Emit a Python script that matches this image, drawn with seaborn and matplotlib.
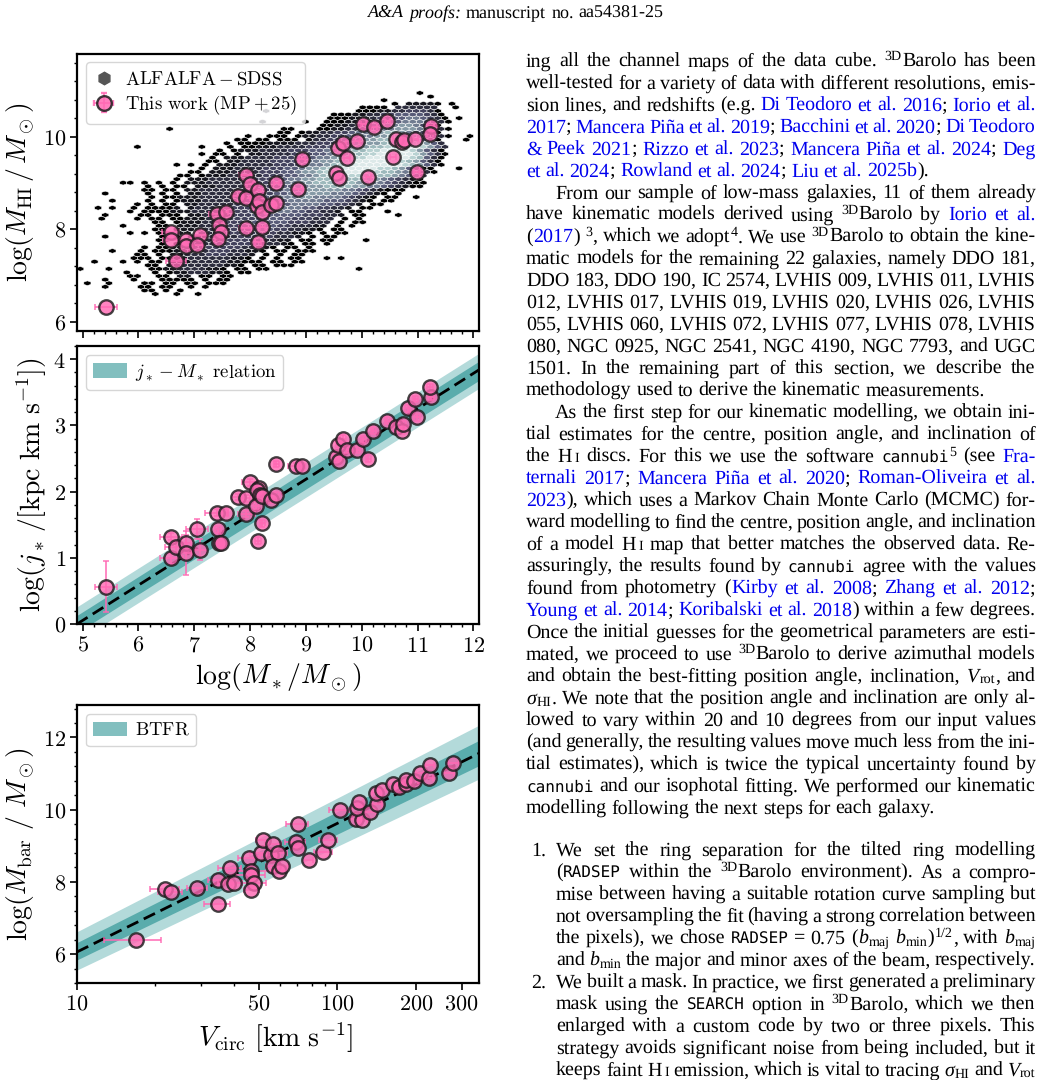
import re
import numpy as np
import matplotlib
matplotlib.use("Agg")
import matplotlib.pyplot as plt
from matplotlib.lines import Line2D
from matplotlib.patches import Patch
from matplotlib.ticker import MultipleLocator, FormatStrFormatter, FixedLocator, FixedFormatter, NullFormatter
from matplotlib.transforms import IdentityTransform
import seaborn as sns

# ---------------- data: HI mass vs stellar mass ----------------
hi_mstar = [5.42,6.58,6.59,6.67,6.85,6.86,7.11,7.05,7.40,7.56,7.45,7.48,7.42,7.79,7.92,7.93,7.92,8.00,8.14,8.13,
            8.16,8.22,8.14,8.22,8.37,8.47,8.47,8.85,8.93,9.53,9.60,9.58,9.66,9.74,9.92,10.12,10.03,10.22,10.46,
            10.61,10.72,10.75,10.56,10.96,10.99,11.24,11.22]
hi_mhi = [6.32,7.93,7.76,7.31,7.77,7.64,7.88,7.65,8.34,8.37,8.10,7.93,7.79,8.72,8.67,8.02,9.17,8.97,8.85,8.51,
          8.62,8.04,7.73,8.37,8.52,8.56,8.99,8.87,9.51,9.21,9.10,9.76,9.86,9.55,9.91,9.12,10.27,10.22,10.34,
          9.95,9.89,9.93,9.57,9.95,9.23,10.23,10.07]
hi_xerr = [0.20,0.15,0.15,0.18,0.10,0.10,0.12,0.10,0.14,0.05,0.05,0.05,0.05,0.12,0.08,0.12,0.12,0.05,0.05,0.05,
           0.05,0.05,0.05,0.05,0.05,0.05,0.05,0.10,0.05,0.05,0.05,0.05,0.05,0.05,0.05,0.05,0.05,0.05,0.05,
           0.05,0.05,0.05,0.05,0.05,0.05,0.05,0.05]

# ---------------- data: specific angular momentum ----------------
j_mstar = [5.42,6.58,6.59,6.67,6.85,6.86,7.05,7.11,7.40,7.56,7.43,7.45,7.48,7.79,7.92,7.93,8.00,8.16,8.13,8.17,
           8.11,8.22,8.14,8.22,8.37,8.47,8.47,8.83,8.93,9.53,9.60,9.58,9.66,9.73,9.92,10.12,10.03,10.21,10.46,
           10.61,10.72,10.74,10.82,10.96,10.99,11.24,11.22]
j_val = [0.565,1.32,0.99,1.16,1.22,1.07,1.43,1.12,1.68,1.68,1.43,1.23,1.23,1.92,1.90,1.66,2.14,2.06,2.03,1.95,
         1.79,1.52,1.26,1.93,1.88,1.95,2.42,2.38,2.38,2.53,2.47,2.71,2.80,2.63,2.63,2.50,2.79,2.92,3.07,
         2.97,2.92,3.02,3.26,3.40,3.12,3.43,3.58]
j_xerr = [0.20,0.20,0.20,0.20,0.10,0.10,0.20,0.12,0.20,0.05,0.05,0.05,0.05,0.12,0.08,0.15,0.15,0.05,0.05,0.05,
          0.05,0.05,0.05,0.05,0.05,0.05,0.05,0.15,0.05,0.05,0.05,0.05,0.05,0.05,0.05,0.05,0.05,0.05,0.05,
          0.05,0.05,0.05,0.05,0.05,0.05,0.05,0.05]
j_yerr = [0.39,0.05,0.08,0.10,0.12,0.33,0.15,0.16,0.05,0.05,0.05,0.05,0.05,0.05,0.05,0.05,0.05,0.05,0.05,0.05,
          0.05,0.05,0.05,0.05,0.05,0.05,0.05,0.05,0.05,0.05,0.05,0.05,0.05,0.05,0.05,0.05,0.05,0.05,0.05,
          0.05,0.05,0.05,0.05,0.05,0.05,0.05,0.05]
jm_x = [4.9, 12.1]
jm_mid = [0.00, 3.84]
jm_in_lo = [-0.13, 3.68]
jm_in_hi = [0.13, 3.97]
jm_out_lo = [-0.26, 3.56]
jm_out_hi = [0.26, 4.09]

# ---------------- data: baryonic Tully-Fisher ----------------
tf_v = [16.9,21.8,22.9,29.0,34.8,34.8,37.9,40.2,38.7,45.7,46.8,46.8,48.0,46.8,51.1,51.6,55.4,56.7,59.3,56.4,
        59.8,61.4,69.2,70.6,70.3,77.6,88.1,92.3,102,118,124,119,121,133.7,141.9,141,148.5,163,173,183,183,
        197,208,224,226,268,279]
tf_mbar = [6.38,7.80,7.72,7.84,8.05,7.39,7.94,7.97,8.38,8.65,8.29,8.18,7.98,7.77,8.79,9.17,8.75,9.04,8.79,8.44,
           8.30,8.44,9.11,8.95,9.60,8.61,8.83,9.17,10.0,9.73,9.72,10.05,10.22,9.95,10.17,10.47,10.54,10.70,10.64,10.70,10.82,
           10.79,11.02,10.88,11.25,11.02,11.28]
tf_verr = [4.2,2.8,2.5,2.6,2.9,4.0,3,3,4,4,9,6,5,3,5,3,5,4,5,3,
           3,3,6,4,7,3,7,7,9,6,6,6,5,7,6,5,5,7,7,7,7,
           7,8,9,9,13,13]
tf_x = [10, 350]
tf_mid = [6.06, 11.56]
tf_in_lo = [5.84, 11.22]
tf_in_hi = [6.32, 11.92]
tf_out_lo = [5.56, 10.85]
tf_out_hi = [6.62, 12.34]

# ---------------- data: ALFALFA-SDSS hexbin cells, read row by row ----------------
# row number, first column, density level of each cell from there on (blank = empty)
hex_rows = [50,58,57,56,55,54,53,53,52,51,51,50,50,49,48,48,48,47,47,46,46,46,46,45,45,45,44,44,43,43,43,42,41,41,40,39,38,38,38,
            37,37,36,35,34,33,33,33,33,32,32,32,31,31,30,30,30,29,29,29,28,28,27,27,26,26,26,25,25,25,24,24,24,23,23,22,21,21,
            20,19,19,18,18,17,17,16,15,14,14,13,12,12,12,11,11,11,10,9,9,9,9,9,8,8,7,7,7,6,6,6,6,5,5,5,4,4,4,3,2,2,2,0]
hex_first = [25,47,49,42,44,39,26,39,35,35,53,31,34,34,12,28,33,28,31,23,26,30,54,22,32,54,20,22,8,17,21,19,17,19,18,18,13,15,17,
             17,53,15,14,13,6,9,11,13,9,11,13,9,12,3,9,11,10,13,47,4,9,8,10,2,7,12,7,13,43,3,8,44,3,8,10,6,11,
             10,7,11,3,11,11,40,11,9,4,8,8,7,34,36,2,6,8,9,0,4,10,25,39,6,10,7,11,20,3,7,11,20,1,4,9,3,8,15,9,10,13,16,13]
hex_cells = ["2","0","0","0","0 11110 0","0000 222222  0","2","000112233320","0001122334444320","00011223344554320","0","0",
             "000112233445554320","00112234455665320","0","00","0011223445566654320","00","01122334556677654320","0","000",
             "0112233445566777664320","0","00 00 000 0","1223344566778876420","0","0","00001111222333445566778888642","0","0",
             "0 00111222233344556677889998642","0 011122223334455667788999986420","0","00 0 1122223334456677889999986420",
             "0 1112222333344556778899999987420","00 112222333445566788999999876420","0","0","0 11122222333445567889999999876420",
             "0 1112222333445667889999988764200","0","00 11122223334456678899998877654320","00 01112222233344556788888777765432",
             "0 111222223333445566777777766543210","00","0","0","0 1112222233334455667777776655432100","0","0",
             "00 11122222333344556677776655432100","00","00 1122222333334455666666554321000","0","0","0 0 1122222333334455666655543210 0",
             "0 0","01112222233334455566555543210 00","0","0","0 0 0111222223333444555554443210 00","0","0 00 1122222333344445555443321 00",
             "0 0","0 000","01 12222333344445554433221 00","0 0000","111222233334444554433221 00","0","0",
             "00 000 1122223334444444333221 00","0","0","0 00 00111222333344444333222 0 0","00 0111222333344444333222 0 00","0",
             "00 111222333344443322211 0 0","00 111222233334443322110 00","0 0","00 11 2222333343322110 0 00","0",
             "0 0 1112222333332221 0 00","00 1122223333322211 00 00","0","0 0 122223333322210 00 0","0 00112223333322110 00 0","0",
             "0 0001122233322110 00 000","00 0 112223332221 0 0 00","000 0011222222110 0 0 00","0","0","0","0",
             "0 00 0112222211000 00 00","00 11222222110 00 000","0","0","00112222110 00","00","0","0","0 011222110 00","00",
             "00 11 00 ","00","0","0","00000 0 0","0","0","0","00 00 00 000","0","00 00","0 0","00 0 0","0","0","0"]

# page text: markup b{blue} i{italic} t{mono} ^{sup} _{sub} s{small} H{header} J{header italic}
header_line = "J{A&A proofs:} H{manuscript no. aa54381-25}"
body_lines = [
 ("ing all the channel maps of the data cube. ^{3D}Barolo has been", 0, False),
 ("well-tested for a variety of data with different resolutions, emis-", 0, False),
 ("sion lines, and redshifts (e.g. b{Di Teodoro et al. 2016}; b{Iorio et al.}", 0, False),
 ("b{2017}; b{Mancera Piña et al. 2019}; b{Bacchini et al. 2020}; b{Di Teodoro}", 0, False),
 ("b{& Peek 2021}; b{Rizzo et al. 2023}; b{Mancera Piña et al. 2024}; b{Deg}", 0, False),
 ("b{et al. 2024}; b{Rowland et al. 2024}; b{Liu et al. 2025b}).", 0, True),
 ("From our sample of low-mass galaxies, 11 of them already", 1, False),
 ("have kinematic models derived using ^{3D}Barolo by b{Iorio et al.}", 0, False),
 ("(b{2017}) ^{3}, which we adopt^{4}. We use ^{3D}Barolo to obtain the kine-", 0, False),
 ("matic models for the remaining 22 galaxies, namely DDO 181,", 0, False),
 ("DDO 183, DDO 190, IC 2574, LVHIS 009, LVHIS 011, LVHIS", 0, False),
 ("012, LVHIS 017, LVHIS 019, LVHIS 020, LVHIS 026, LVHIS", 0, False),
 ("055, LVHIS 060, LVHIS 072, LVHIS 077, LVHIS 078, LVHIS", 0, False),
 ("080, NGC 0925, NGC 2541, NGC 4190, NGC 7793, and UGC", 0, False),
 ("1501. In the remaining part of this section, we describe the", 0, False),
 ("methodology used to derive the kinematic measurements.", 0, True),
 ("As the first step for our kinematic modelling, we obtain ini-", 1, False),
 ("tial estimates for the centre, position angle, and inclination of", 0, False),
 ("the Hs{I} discs. For this we use the software t{cannubi}^{5} (see b{Fra-}", 0, False),
 ("b{ternali 2017}; b{Mancera Piña et al. 2020}; b{Roman-Oliveira et al.}", 0, False),
 ("b{2023}), which uses a Markov Chain Monte Carlo (MCMC) for-", 0, False),
 ("ward modelling to find the centre, position angle, and inclination", 0, False),
 ("of a model Hs{I} map that better matches the observed data. Re-", 0, False),
 ("assuringly, the results found by t{cannubi} agree with the values", 0, False),
 ("found from photometry (b{Kirby et al. 2008}; b{Zhang et al. 2012};", 0, False),
 ("b{Young et al. 2014}; b{Koribalski et al. 2018}) within a few degrees.", 0, False),
 ("Once the initial guesses for the geometrical parameters are esti-", 0, False),
 ("mated, we proceed to use ^{3D}Barolo to derive azimuthal models", 0, False),
 ("and obtain the best-fitting position angle, inclination, i{V}_{rot}, and", 0, False),
 ("i{σ}_{HI}. We note that the position angle and inclination are only al-", 0, False),
 ("lowed to vary within 20 and 10 degrees from our input values", 0, False),
 ("(and generally, the resulting values move much less from the ini-", 0, False),
 ("tial estimates), which is twice the typical uncertainty found by", 0, False),
 ("t{cannubi} and our isophotal fitting. We performed our kinematic", 0, False),
 ("modelling following the next steps for each galaxy.", 0, True),
]
list_lines = [
 ("1.", "We set the ring separation for the tilted ring modelling", False),
 ("", "(t{RADSEP} within the ^{3D}Barolo environment). As a compro-", False),
 ("", "mise between having a suitable rotation curve sampling but", False),
 ("", "not oversampling the fit (having a strong correlation between", False),
 ("", "the pixels), we chose t{RADSEP} = 0.75 (i{b}_{maj} i{b}_{min})^{1/2}, with i{b}_{maj}", False),
 ("", "and i{b}_{min} the major and minor axes of the beam, respectively.", False),
 ("2.", "We built a mask. In practice, we first generated a preliminary", False),
 ("", "mask using the t{SEARCH} option in ^{3D}Barolo, which we then", False),
 ("", "enlarged with a custom code by two or three pixels. This", False),
 ("", "strategy avoids significant noise from being included, but it", False),
 ("", "keeps faint Hs{I} emission, which is vital to tracing i{σ}_{HI} and i{V}_{rot}", False),
]

# ---------------- style ----------------
sns.set_theme(style="ticks")
plt.rcParams.update({
    "mathtext.fontset": "cm",
    "text.hinting": "no_hinting",
    "text.hinting_factor": 1,
    "axes.linewidth": 1.6,
    "xtick.major.width": 1.2, "ytick.major.width": 1.2,
    "xtick.minor.width": 1.0, "ytick.minor.width": 1.0,
    "xtick.major.size": 5, "ytick.major.size": 5,
    "xtick.minor.size": 2.5, "ytick.minor.size": 2.5,
    "xtick.color": "black", "ytick.color": "black",
    "xtick.labelsize": 16, "ytick.labelsize": 16,
    "axes.edgecolor": "black", "text.color": "black", "axes.labelcolor": "black",
})
W, H = 1044, 1080
fig = plt.figure(figsize=(W / 100, H / 100), dpi=100, facecolor="white")

def make_axes(top, bottom):
    return fig.add_axes([77 / W, 1 - bottom / H, 402 / W, (bottom - top) / H])

PINK = "#ff69b4"
EDGE = "#1c1c1c"
OUT_C, IN_C, LEG_C = "#b3dada", "#5aacac", "#82bfbf"

def draw_points(ax, x, y, xerr=None, yerr=None):
    ax.errorbar(x, y, xerr=xerr, yerr=yerr, fmt="none", ecolor=PINK, elinewidth=1.3,
                capsize=2.2, capthick=1.2, alpha=0.85, zorder=4)
    sns.scatterplot(x=x, y=y, ax=ax, s=108, color=PINK, edgecolor=EDGE, linewidth=1.7,
                    alpha=0.82, zorder=5, legend=False, clip_on=False)

def draw_band(ax, x, lo_o, hi_o, lo_i, hi_i, mid):
    ax.fill_between(x, lo_o, hi_o, color=OUT_C, lw=0, zorder=1)
    ax.fill_between(x, lo_i, hi_i, color=IN_C, lw=0, zorder=2)
    sns.lineplot(x=x, y=mid, ax=ax, color="black", lw=2.0, zorder=3, legend=False,
                 linestyle=(0, (4.5, 2.2)), errorbar=None)

TICKFMT = FormatStrFormatter(r"$%d$")
LEG_FS = 13.5

# ---------- panel 1 ----------
ax1 = make_axes(53.5, 331)
sx, dy = 0.12805, 0.0776
sy = 2 * dy
x_odd, y_base = 4.958, 6.445
hx, hy, hc = [], [], []
for k, m0, cells in zip(hex_rows, hex_first, hex_cells):
    for i, ch in enumerate(cells):
        if ch != " ":
            col = m0 + i
            hx.append(x_odd + sx * col + (0 if k % 2 else sx / 2))
            hy.append(y_base + k * dy)
            hc.append(float(ch))
xmin, ymin = x_odd - sx, y_base - dy
ax1.hexbin(hx, hy, C=hc, gridsize=(64, 36), extent=(xmin, xmin + 64 * sx, ymin, ymin + 36 * sy),
           cmap="bone", vmin=0, vmax=10, edgecolors="white", linewidths=0.4, zorder=1)
draw_points(ax1, hi_mstar, hi_mhi, xerr=hi_xerr)
ax1.set_xlim(4.9, 12.1)
ax1.set_ylim(5.8, 11.8)
ax1.xaxis.set_major_locator(MultipleLocator(1))
ax1.xaxis.set_minor_locator(MultipleLocator(0.2))
ax1.xaxis.set_major_formatter(NullFormatter())
ax1.yaxis.set_major_locator(MultipleLocator(2))
ax1.yaxis.set_minor_locator(MultipleLocator(0.4))
ax1.yaxis.set_major_formatter(TICKFMT)
ax1.set_ylabel(r"$\log(M_{\rm HI}\,/\,M_\odot)$", fontsize=20, va="center")
ax1.yaxis.set_label_coords(-0.142, 0.5)
h_hex = Line2D([], [], marker="h", ls="none", color="#555555", ms=9)
h_pts = ax1.errorbar([np.nan], [np.nan], xerr=[1], yerr=[1], fmt="o", ms=10.5, mfc=PINK, mec=EDGE, mew=1.7,
                     ecolor=PINK, elinewidth=1.3, capsize=2.2, capthick=1.2, alpha=0.85)
ax1.legend([h_hex, h_pts], [r"$\mathrm{ALFALFA-SDSS}$", r"$\mathrm{This\ work\ (MP+25)}$"],
           loc="upper left", fontsize=LEG_FS, borderaxespad=0.47, labelspacing=0.24,
           frameon=True, framealpha=0.8, handlelength=1.05, handletextpad=0.62, borderpad=0.42)

# ---------- panel 2 ----------
ax2 = make_axes(346, 624)
draw_band(ax2, jm_x, jm_out_lo, jm_out_hi, jm_in_lo, jm_in_hi, jm_mid)
draw_points(ax2, j_mstar, j_val, xerr=j_xerr, yerr=j_yerr)
ax2.set_xlim(4.9, 12.1)
ax2.set_ylim(0, 4.2)
ax2.xaxis.set_major_locator(MultipleLocator(1))
ax2.xaxis.set_minor_locator(MultipleLocator(0.2))
ax2.yaxis.set_major_locator(MultipleLocator(1))
ax2.yaxis.set_minor_locator(MultipleLocator(0.2))
ax2.xaxis.set_major_formatter(TICKFMT)
ax2.yaxis.set_major_formatter(TICKFMT)
ax2.set_ylabel(r"$\log(j_*\,/[{\rm kpc\ km\ s}^{-1}])$", fontsize=20, va="center")
ax2.yaxis.set_label_coords(-0.113, 0.5)
ax2.set_xlabel(r"$\log(M_*/M_\odot)$", fontsize=20, va="center")
ax2.xaxis.set_label_coords(0.5, -0.19)
ax2.legend(handles=[Patch(color=LEG_C, lw=0)], labels=[r"$j_*-M_*\ \mathrm{relation}$"], loc="upper left",
           fontsize=LEG_FS, borderaxespad=0.47, frameon=True, framealpha=0.8, handlelength=1.8,
           handleheight=0.8, handletextpad=0.42, borderpad=0.38)

# ---------- panel 3 ----------
ax3 = make_axes(705, 983)
ax3.set_xscale("log")
draw_band(ax3, tf_x, tf_out_lo, tf_out_hi, tf_in_lo, tf_in_hi, tf_mid)
draw_points(ax3, tf_v, tf_mbar, xerr=tf_verr)
ax3.set_xlim(10, 350)
ax3.set_ylim(5.2, 12.9)
ax3.xaxis.set_major_locator(FixedLocator([10, 50, 100, 200, 300]))
ax3.xaxis.set_major_formatter(FixedFormatter([r"$10$", r"$50$", r"$100$", r"$200$", r"$300$"]))
ax3.xaxis.set_minor_locator(FixedLocator([20, 30, 40, 60, 70, 80, 90]))
ax3.xaxis.set_minor_formatter(NullFormatter())
ax3.yaxis.set_major_locator(MultipleLocator(2))
ax3.yaxis.set_minor_locator(MultipleLocator(0.4))
ax3.yaxis.set_major_formatter(TICKFMT)
ax3.set_ylabel(r"$\log(M_{\rm bar}\ /\ M_\odot)$", fontsize=20, va="center")
ax3.yaxis.set_label_coords(-0.142, 0.5)
ax3.set_xlabel(r"$V_{\rm circ}\ [{\rm km\ s}^{-1}]$", fontsize=20, va="center")
ax3.xaxis.set_label_coords(0.495, -0.198)
ax3.legend(handles=[Patch(color=LEG_C, lw=0)], labels=[r"$\mathrm{BTFR}$"], loc="upper left",
           fontsize=LEG_FS, borderaxespad=0.47, frameon=True, framealpha=0.8, handlelength=1.8,
           handleheight=0.8, handletextpad=0.42, borderpad=0.38)

for ax in (ax1, ax2, ax3):
    ax.tick_params(which="both", direction="out", top=False, right=False)
    ax.tick_params(axis="both", which="major", pad=3)
    ax.set_axisbelow(False)

# ---------- page text ----------
renderer = fig.canvas.get_renderer()
FS = 14.5
SERIF = "Liberation Serif"
STY = {
    "": dict(family=SERIF, size=FS, color="black", rise=0),
    "b": dict(family=SERIF, size=FS, color="#0000ee", rise=0),
    "i": dict(family=SERIF, size=FS, color="black", style="italic", rise=0),
    "t": dict(family="DejaVu Sans Mono", size=FS * 0.80, color="black", rise=0),
    "^": dict(family=SERIF, size=FS * 0.7, color="black", rise=6.5),
    "_": dict(family=SERIF, size=FS * 0.68, color="black", rise=-2.5),
    "s": dict(family=SERIF, size=FS * 0.68, color="black", rise=0, pre=2.2),
    "H": dict(family=SERIF, size=FS * 0.88, color="black", rise=0),
    "J": dict(family=SERIF, size=FS * 0.88, color="black", style="italic", rise=0),
}
TOKEN = re.compile(r"([bit^_sHJ])\{([^}]*)\}")

def parse(line):
    out, pos = [], 0
    def add(text, sty):
        parts = text.split(" ")
        for i, p in enumerate(parts):
            if i:
                out.append(None)
            if p:
                out.append((p, sty))
    for m in TOKEN.finditer(line):
        add(line[pos:m.start()], "")
        add(m.group(2), m.group(1))
        pos = m.end()
    add(line[pos:], "")
    return out

def put(x, y, text, sty):
    st = dict(STY[sty])
    rise = st.pop("rise")
    pre = st.pop("pre", 0)
    t = fig.text(x + pre, H - y + rise, text, transform=IdentityTransform(), va="baseline", ha="left",
                 fontfamily=st.get("family"), fontsize=st["size"], color=st["color"], fontstyle=st.get("style", "normal"))
    return t, pre

def set_line(line, x0, x1, y, natural=False):
    toks = parse(line)
    items, total, gaps = [], 0.0, 0
    for tok in toks:
        if tok is None:
            gaps += 1
            items.append(None)
        else:
            t, pre = put(0, y, tok[0], tok[1])
            w = t.get_window_extent(renderer).width + pre
            items.append((t, w, pre))
            total += w + 0.35
    space = 4.4 if natural or gaps == 0 else (x1 - x0 - total) / gaps
    x = x0
    for it in items:
        if it is None:
            x += space
        else:
            t, w, pre = it
            t.set_x(x + pre)
            x += w + 0.35

set_line(header_line, 368, 664, 18)

y = 66.5
for text, indent, last in body_lines:
    set_line(text, 555 if indent else 526, 1036, y, natural=last)
    y += 21.97
y = 855.5
for num, text, last in list_lines:
    if num:
        put(531, y, num, "")
    set_line(text, 556, 1036, y, natural=last)
    y += 22.0

fig.savefig("out.png", dpi=100, facecolor="white")
